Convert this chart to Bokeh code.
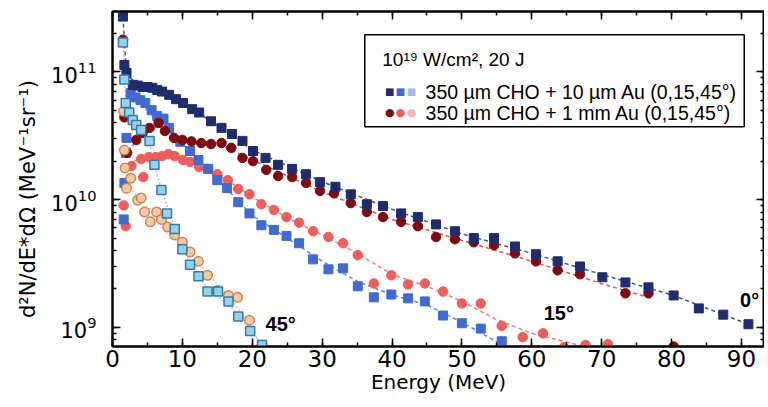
from bokeh.plotting import figure
from bokeh.models import (LogAxis, LinearAxis, SingleIntervalTicker, LogTicker,
                          Label, BoxAnnotation)
from bokeh.embed import file_html
from bokeh.resources import INLINE

# ---------------- data (Energy in MeV, d2N/dE dOmega) ----------------
# 350 um CHO + 10 um Au, 0 deg
au10_0_e = [1.5, 1.7, 2.0, 2.9, 3.6, 4.3, 5.0, 5.7, 6.4, 7.1, 8.1, 9.1, 10.1, 11.4, 12.4,
            14.1, 15.6, 17.1, 18.6, 20.1, 21.9, 23.7, 25.7, 27.7, 29.7, 31.9, 34.1, 36.4,
            38.7, 41.3, 43.7, 46.3, 49.0, 51.7, 54.6, 57.6, 60.6, 63.7, 66.9, 70.1, 73.4,
            76.7, 80.3, 83.9, 87.4, 91.0]
au10_0_v = [2.7e11, 1.13e11, 9.8e10, 7.9e10, 7.8e10, 7.6e10, 7.6e10, 7.5e10, 7.2e10, 7.0e10,
            6.6e10, 6.1e10, 5.7e10, 5.1e10, 4.8e10, 4.1e10, 3.64e10, 3.26e10, 2.88e10, 2.40e10,
            2.12e10, 1.87e10, 1.74e10, 1.58e10, 1.37e10, 1.26e10, 1.10e10, 9.2e9, 8.9e9, 7.8e9,
            7.3e9, 6.4e9, 5.66e9, 5.0e9, 5.0e9, 4.3e9, 3.74e9, 3.29e9, 3.0e9, 2.47e9, 2.25e9,
            2.06e9, 1.78e9, 1.41e9, 1.26e9, 1.06e9]

# 350 um CHO + 10 um Au, 15 deg
au10_15_e = [1.6, 1.7, 1.9, 2.0, 2.6, 3.3, 4.0, 4.7, 5.6, 6.4, 7.3, 8.1, 9.7, 11.1, 12.3,
             13.7, 15.0, 16.4, 18.0, 19.6, 21.3, 23.1, 24.9, 26.7, 28.7, 30.9, 33.0, 35.1,
             37.4, 39.9, 42.3, 44.7, 47.3, 50.0, 52.7, 55.7]
au10_15_v = [7.0e9, 1.35e10, 2.32e10, 3.04e10, 6.8e10, 6.3e10, 6.0e10, 5.7e10, 5.0e10, 4.5e10,
             4.3e10, 3.64e10, 2.83e10, 2.40e10, 2.04e10, 1.74e10, 1.42e10, 1.23e10, 9.55e9,
             7.8e9, 6.3e9, 5.8e9, 5.2e9, 4.56e9, 3.41e9, 2.85e9, 2.9e9, 2.1e9, 1.72e9, 1.81e9,
             1.69e9, 1.60e9, 1.24e9, 1.08e9, 0.98e9, 0.78e9]

# 350 um CHO + 10 um Au, 45 deg
au10_45_e = [1.5, 1.7, 1.9, 2.4, 2.9, 3.4, 4.1, 5.3, 6.0, 7.0, 7.8, 8.9, 10.0, 11.1, 12.3,
             13.6, 15.1, 16.6, 18.0, 19.7, 21.4]
au10_45_v = [1.69e11, 8.7e10, 5.7e10, 4.8e10, 4.2e10, 3.84e10, 3.51e10, 2.88e10, 1.87e10,
             1.19e10, 7.8e9, 5.9e9, 4.09e9, 3.1e9, 2.52e9, 1.91e9, 1.91e9, 1.60e9, 1.22e9,
             0.94e9, 0.73e9]

# 350 um CHO + 1 mm Au, 0 deg
au1mm_0_e = [1.5, 1.7, 2.1, 3.4, 4.3, 5.3, 6.6, 7.5, 8.8, 10.0, 11.3, 12.7, 14.1, 15.6, 17.0,
             18.6, 20.1, 22.0, 23.7, 25.7, 27.7, 29.7, 31.7, 34.1, 36.4, 38.7, 41.3, 43.7,
             46.3, 49.0, 51.7, 54.6, 57.6, 60.6, 63.7, 66.9, 73.4, 76.7, 80.3]
au1mm_0_v = [1.78e11, 4.4e10, 2.32e10, 2.93e10, 3.32e10, 3.64e10, 3.98e10, 3.44e10, 3.04e10,
             2.93e10, 2.85e10, 2.77e10, 2.72e10, 2.77e10, 2.54e10, 2.12e10, 2.00e10, 1.71e10,
             1.53e10, 1.50e10, 1.35e10, 1.17e10, 1.12e10, 9.4e9, 8.0e9, 7.3e9, 6.7e9, 6.2e9,
             5.1e9, 4.9e9, 4.64e9, 4.4e9, 3.8e9, 3.29e9, 2.8e9, 2.61e9, 1.85e9, 1.85e9, 7.1e8]

# 350 um CHO + 1 mm Au, 15 deg
au1mm_15_e = [1.6, 1.9, 2.7, 4.1, 4.4, 5.2, 6.2, 7.1, 8.0, 8.9, 10.1, 11.1, 12.4, 13.6, 15.0,
              16.5, 18.0, 19.6, 21.3, 23.1, 24.9, 26.7, 28.7, 30.9, 33.0, 35.1, 37.4, 39.9,
              42.3, 44.7, 47.3, 50.0, 52.7, 55.7, 58.7, 61.6, 64.6, 67.7, 70.9]
au1mm_15_v = [9.0e9, 6.2e9, 1.83e10, 2.08e10, 1.50e10, 2.15e10, 2.15e10, 2.19e10, 2.27e10,
              2.19e10, 2.04e10, 1.97e10, 1.80e10, 1.74e10, 1.58e10, 1.42e10, 1.21e10, 1.10e10,
              9.2e9, 8.3e9, 7.3e9, 6.6e9, 5.66e9, 5.1e9, 4.56e9, 3.68e9, 2.21e9, 2.56e9, 2.17e9,
              2.21e9, 1.91e9, 1.54e9, 1.54e9, 1.03e9, 0.84e9, 0.90e9, 0.70e9, 0.73e9, 0.74e9]

# 350 um CHO + 1 mm Au, 45 deg
au1mm_45_e = [1.6, 1.7, 1.8, 2.0, 2.6, 3.6, 4.1, 4.6, 5.4, 6.3, 7.0, 7.9, 8.9, 10.0, 11.1,
              12.3, 13.6, 15.0, 16.6, 17.9, 19.6, 21.4]
au1mm_45_v = [4.9e10, 2.44e10, 1.77e10, 1.23e10, 1.47e10, 9.9e9, 1.03e10, 8.0e9, 6.7e9, 8.0e9,
              7.0e9, 6.1e9, 5.3e9, 4.64e9, 3.9e9, 3.29e9, 2.56e9, 1.95e9, 1.78e9, 1.72e9,
              1.14e9, 0.73e9]

# dashed fit curves
fit_au10_0_e = [1.5, 2.0, 4, 7, 10, 15, 20, 30, 40, 50, 60, 70, 80, 91]
fit_au10_0_v = [2.7e11, 9.5e10, 7.7e10, 7.0e10, 5.8e10, 3.8e10, 2.45e10, 1.38e10, 8.4e9,
                5.4e9, 3.8e9, 2.6e9, 1.8e9, 1.06e9]
fit_au10_15_e = [2.6, 5, 10, 15, 20, 25, 30, 35, 40, 45, 50, 56]
fit_au10_15_v = [6.8e10, 5.0e10, 2.7e10, 1.45e10, 7.5e9, 5.0e9, 3.3e9, 2.3e9, 1.8e9, 1.5e9,
                 1.1e9, 0.72e9]
fit_au10_45_e = [1.5, 1.9, 3, 5.3, 6.0, 7, 10, 13.6, 17, 21.4]
fit_au10_45_v = [1.69e11, 5.7e10, 4.1e10, 2.8e10, 1.87e10, 1.19e10, 4.1e9, 2.0e9, 1.45e9, 0.73e9]
fit_au1mm_0_e = [2.1, 4, 6.6, 10, 15, 20, 30, 40, 50, 60, 70, 77]
fit_au1mm_0_v = [2.4e10, 3.1e10, 3.8e10, 3.0e10, 2.75e10, 2.05e10, 1.15e10, 7.0e9, 4.8e9,
                 3.3e9, 2.2e9, 1.7e9]
fit_au1mm_15_e = [3, 7, 10, 15, 20, 25, 30, 35, 40, 45, 50, 55, 60, 68]
fit_au1mm_15_v = [2.0e10, 2.2e10, 2.05e10, 1.6e10, 1.05e10, 7.2e9, 5.3e9, 3.8e9, 2.6e9, 2.1e9,
                  1.6e9, 1.15e9, 0.9e9, 0.7e9]
fit_au1mm_45_e = [2.0, 4, 7, 10, 13.6, 17, 21.4]
fit_au1mm_45_v = [1.3e10, 1.0e10, 7.0e9, 4.6e9, 2.6e9, 1.7e9, 0.72e9]

legend_title = "10\u00b9\u2079 W/cm\u00b2, 20 J"
legend_labels = ["350 \u00b5m CHO + 10 \u00b5m Au (0,15,45\u00b0)",
                 "350 \u00b5m CHO + 1 mm Au (0,15,45\u00b0)"]
angle_labels = ["45\u00b0", "15\u00b0", "0\u00b0"]
y_title = "d\u00b2N/dE*d\u03a9 (MeV\u207b\u00b9sr\u207b\u00b9)"

# ---------------- colours ----------------
NAVY = "#1f2d6e"
MBLUE = "#416bd0"
LBLUE_F, LBLUE_L = "#93d3ea", "#3a78a6"
DRED = "#7d0c12"
SALMON = "#ef5d5d"
PEACH_F, PEACH_L = "#f7c9a0", "#c9835a"

p = figure(frame_width=652, frame_height=335, x_range=(0, 93.3), y_range=(7.1e8, 2.96e11),
           y_axis_type="log", output_backend="svg", toolbar_location=None,
           min_border_left=112, min_border_right=0, min_border_top=11, min_border_bottom=10)
p.background_fill_color = "white"
p.border_fill_color = "white"
p.outline_line_color = "black"
p.outline_line_width = 2
p.grid.visible = False

def fit(e, v, color, dash="4 3", alpha=0.8):
    p.line(e, v, line_color=color, line_width=1.5, line_dash=dash, line_alpha=alpha)

fit(fit_au1mm_45_e, fit_au1mm_45_v, "#e8a090", "2 2", 0.7)
fit(fit_au10_45_e, fit_au10_45_v, "#8fb8e0", "2 2", 0.8)
fit(fit_au1mm_15_e, fit_au1mm_15_v, SALMON)
fit(fit_au10_15_e, fit_au10_15_v, MBLUE)
fit(fit_au1mm_0_e, fit_au1mm_0_v, "#d03030")
fit(fit_au10_0_e, fit_au10_0_v, NAVY)

p.scatter(au1mm_15_e, au1mm_15_v, marker="circle", size=9.5, fill_color=SALMON, line_color=SALMON)
p.scatter(au10_15_e, au10_15_v, marker="square", size=9, fill_color=MBLUE, line_color=MBLUE)
p.scatter(au1mm_0_e, au1mm_0_v, marker="circle", size=9.5, fill_color=DRED, line_color=DRED)
p.scatter(au10_0_e, au10_0_v, marker="square", size=9, fill_color=NAVY, line_color=NAVY)
p.scatter(au1mm_45_e, au1mm_45_v, marker="circle", size=9.5, fill_color=PEACH_F, line_color=PEACH_L, line_width=1.5)
p.scatter(au10_45_e, au10_45_v, marker="square", size=9, fill_color=LBLUE_F, line_color=LBLUE_L, line_width=1.5)

# axes
TICK_FONT = "DejaVu Sans"
xa = p.xaxis[0]
xa.ticker = SingleIntervalTicker(interval=10, num_minor_ticks=2)
xa.axis_label = "Energy (MeV)"
ya = p.yaxis[0]
ya.ticker = LogTicker(num_minor_ticks=10)
ya.axis_label = y_title + "\u00a0" * 6
for ax in (xa, ya):
    ax.axis_line_width = 2
    ax.major_tick_in = 8
    ax.major_tick_out = 0
    ax.minor_tick_in = 4
    ax.minor_tick_out = 0
    ax.major_tick_line_width = 1.5
    ax.minor_tick_line_width = 1.5
    ax.major_label_text_font = TICK_FONT
    ax.axis_label_text_font = TICK_FONT
    ax.axis_label_text_font_style = "normal"
    ax.major_label_text_color = "black"
    ax.axis_label_text_color = "black"
xa.major_label_text_font_size = "23px"
xa.axis_label_text_font_size = "20px"
xa.major_label_standoff = 3
xa.axis_label_standoff = 0
ya.major_label_text_font_size = "21px"
ya.axis_label_text_font_size = "21px"
ya.major_label_standoff = 16
ya.axis_label_standoff = 8

top = LinearAxis(ticker=SingleIntervalTicker(interval=10, num_minor_ticks=2))
right = LogAxis(ticker=LogTicker(num_minor_ticks=10))
for ax in (top, right):
    ax.axis_line_width = 2
    ax.major_tick_in = 8
    ax.major_tick_out = 0
    ax.minor_tick_in = 4
    ax.minor_tick_out = 0
    ax.major_tick_line_width = 1.5
    ax.minor_tick_line_width = 1.5
    ax.major_label_text_font_size = "1px"
    ax.major_label_text_alpha = 0
    ax.major_label_standoff = 0
p.add_layout(top, "above")
p.add_layout(right, "right")

# legend box (annotation)
p.add_layout(BoxAnnotation(left=36.1, right=90.4, bottom=3.71e10, top=1.95e11,
                           fill_color="white", fill_alpha=1.0, line_color="black",
                           line_width=1.5, line_alpha=1.0, level="annotation"))
LEG_FONT = "Liberation Sans"
p.add_layout(Label(x=38.6, y=1.24e11, text=legend_title, text_font=LEG_FONT,
                   text_font_size="19px", text_baseline="middle", text_color="black"))
sq_cols = [NAVY, MBLUE, "#a9b8ea"]
ci_cols = [DRED, SALMON, "#f4b6b6"]
for i, (cs, cc) in enumerate(zip(sq_cols, ci_cols)):
    p.add_layout(Label(x=39.0 + 1.55 * i, y=6.97e10, text="\u25a0", text_font=TICK_FONT,
                       text_font_size="10px", text_baseline="middle", text_color=cs))
    p.add_layout(Label(x=39.0 + 1.55 * i, y=4.77e10, text="\u25cf", text_font=TICK_FONT,
                       text_font_size="11px", text_baseline="middle", text_color=cc))
p.add_layout(Label(x=44.8, y=6.97e10, text=legend_labels[0], text_font=LEG_FONT,
                   text_font_size="19.5px", text_baseline="middle", text_color="black"))
p.add_layout(Label(x=44.8, y=4.77e10, text=legend_labels[1], text_font=LEG_FONT,
                   text_font_size="19.5px", text_baseline="middle", text_color="black"))

# angle labels
for txt, xx, yy in zip(angle_labels, [21.9, 61.7, 89.8], [1.06e9, 1.29e9, 1.63e9]):
    p.add_layout(Label(x=xx, y=yy, text=txt, text_font=LEG_FONT, text_font_style="bold",
                       text_font_size="20px", text_baseline="middle", text_color="black"))

open("out.html", "w").write(file_html(p, INLINE))
